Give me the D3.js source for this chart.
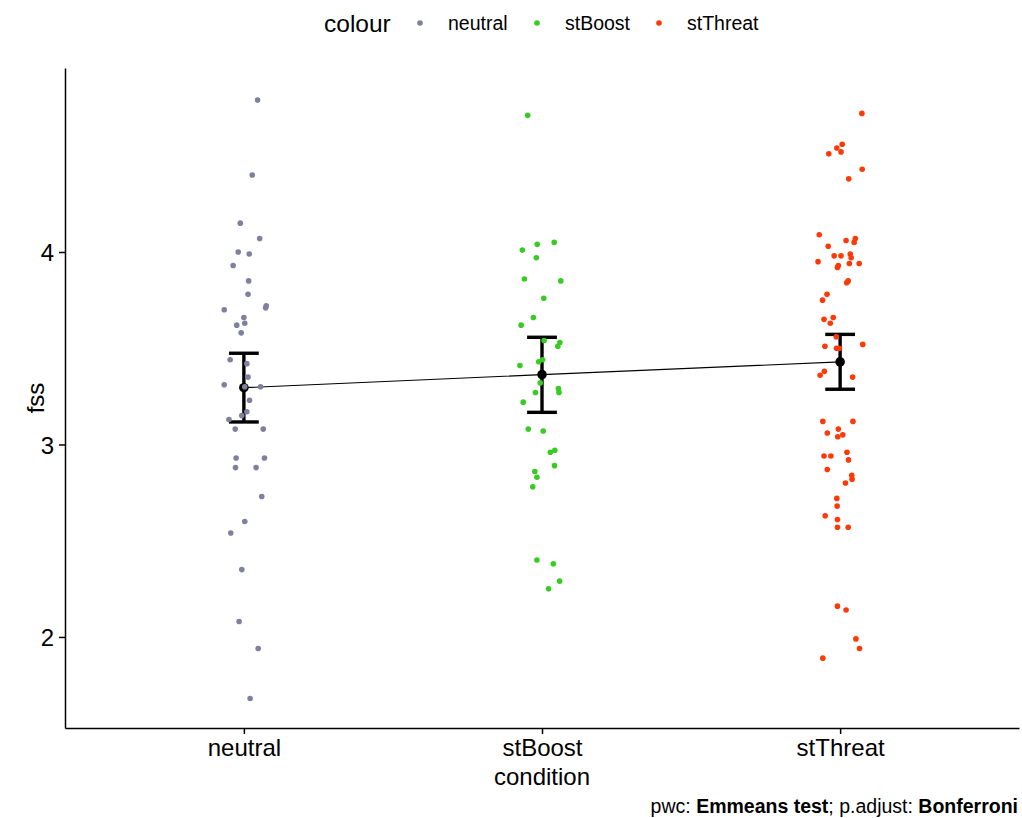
<!DOCTYPE html>
<html>
<head>
<meta charset="utf-8">
<script src="https://cdn.jsdelivr.net/npm/d3@7"></script>
<style>
  body { margin: 0; background: #fff; }
  text { font-family: 'Liberation Sans', Arial, sans-serif; }
</style>
</head>
<body>
<script>
// categories and colours
var conditions = ['neutral', 'stBoost', 'stThreat'];
var colours = ['#7f7f9f', '#37cc22', '#fc3a07'];

// fss scores, with the jitter offset (in category units)
var neutralFss = [4.79, 4.40, 4.15, 4.07, 4.00, 3.99, 3.93, 3.85, 3.78, 3.70, 3.72, 3.71, 3.66,
  3.63, 3.62, 3.58, 3.44, 3.42, 3.35, 3.31, 3.30, 3.30, 3.23, 3.17, 3.15, 3.13, 3.08, 3.08,
  2.93, 2.93, 2.88, 2.88, 2.73, 2.60, 2.54, 2.35, 2.08, 1.94, 1.68];
var neutralJitter = [0.046, 0.028, -0.012, 0.053, -0.019, 0.018, -0.036, 0.016, 0.014, -0.066, 0.075, 0.073, 0.000,
  0.003, -0.024, -0.009, -0.046, 0.010, 0.014, -0.066, 0.056, 0.003, 0.019, 0.010, -0.007, -0.050, -0.029, 0.065,
  -0.026, 0.069, -0.028, 0.041, 0.060, 0.003, -0.044, -0.007, -0.016, 0.048, 0.021];

var stBoostFss = [4.71, 4.01, 4.04, 4.05, 3.97, 3.86, 3.85, 3.76, 3.66, 3.62, 3.54, 3.53, 3.51,
  3.41, 3.43, 3.44, 3.32, 3.27, 3.29, 3.27, 3.22, 3.08, 3.07, 2.96, 2.97, 2.89, 2.86, 2.83,
  2.78, 2.40, 2.38, 2.29, 2.25];
var stBoostJitter = [-0.048, -0.066, -0.016, 0.041, -0.019, -0.059, 0.063, 0.006, -0.029, -0.070, 0.007, 0.060, 0.053,
  -0.074, -0.011, 0.002, -0.006, -0.022, 0.055, 0.057, -0.063, -0.046, 0.004, 0.028, 0.043, 0.042, -0.024, -0.017,
  -0.031, -0.017, 0.038, 0.059, 0.022];

var stThreatFss = [4.72, 4.56, 4.54, 4.52, 4.51, 4.43, 4.38, 4.09, 4.07, 4.05, 4.06, 4.03, 3.98,
  3.98, 3.99, 3.97, 3.95, 3.94, 3.94, 3.93, 3.92, 3.85, 3.84, 3.78, 3.75, 3.65, 3.66, 3.63,
  3.56, 3.51, 3.50, 3.50, 3.52, 3.38, 3.36, 3.35, 3.12, 3.12, 3.08, 3.06, 3.04, 3.05,
  2.94, 2.94, 2.96, 2.92, 2.87, 2.84, 2.82, 2.80, 2.72, 2.68, 2.63, 2.61, 2.57, 2.57,
  2.16, 2.14, 1.99, 1.94, 1.89];
var stThreatJitter = [0.073, 0.007, -0.011, 0.003, -0.038, 0.074, 0.029, -0.070, 0.051, 0.047, 0.020, -0.040, -0.020,
  0.003, 0.034, 0.037, -0.074, 0.031, 0.064, -0.006, -0.009, 0.027, 0.022, -0.044, -0.059, -0.054, -0.023, -0.033,
  -0.013, -0.051, -0.012, -0.003, 0.076, -0.053, -0.067, 0.042, -0.058, 0.043, -0.006, -0.043, -0.008, 0.009,
  -0.054, -0.031, 0.023, 0.028, -0.043, 0.039, 0.040, 0.018, -0.011, -0.010, -0.050, -0.009, -0.009, 0.027,
  -0.009, 0.020, 0.053, 0.065, -0.058];

// estimated marginal means and their intervals
var meanFss = [3.295, 3.363, 3.429];
var lowerFss = [3.117, 3.167, 3.287];
var upperFss = [3.474, 3.557, 3.572];

var yTicks = [2, 3, 4];

var svgWidth = 1022;
var svgHeight = 818;

var margin = {
  top: 68,
  bottom: 90,
  left: 65,
  right: 3
};

var chartHeight = svgHeight - margin.top - margin.bottom;
var chartWidth = svgWidth - margin.left - margin.right;

var svg = d3
  .select('body')
  .append('svg')
  .attr('width', svgWidth)
  .attr('height', svgHeight);

var chart = svg.append('g')
  .attr('transform', 'translate(' + margin.left + ',' + margin.top + ')');

// discrete x: categories at 1,2,3 with ggplot's 0.6 expansion
var xScale = d3.scaleLinear().domain([0.4, 3.6]).range([0, chartWidth]);
var yScale = d3.scaleLinear().domain([1.527, 4.956]).range([chartHeight, 0]);

var points = [];
[neutralFss, stBoostFss, stThreatFss].forEach(function(values, i) {
  var jitter = [neutralJitter, stBoostJitter, stThreatJitter][i];
  values.forEach(function(v, j) {
    points.push({ group: i, fss: v, jitter: jitter[j] });
  });
});

var summary = conditions.map(function(c, i) {
  return { group: i, mean: meanFss[i], lower: lowerFss[i], upper: upperFss[i] };
});

// line through the means
var meanLine = d3.line()
  .x(function(d) { return xScale(d.group + 1); })
  .y(function(d) { return yScale(d.mean); });

chart.append('path')
  .datum(summary)
  .attr('d', meanLine)
  .attr('fill', 'none')
  .attr('stroke', '#000')
  .attr('stroke-width', 1.2);

// error bars
var bars = chart.selectAll('.errbar')
  .data(summary)
  .enter()
  .append('g')
  .attr('class', 'errbar')
  .attr('stroke', '#000')
  .attr('stroke-width', 3.4);

bars.append('line')
  .attr('x1', function(d) { return xScale(d.group + 1); })
  .attr('x2', function(d) { return xScale(d.group + 1); })
  .attr('y1', function(d) { return yScale(d.lower); })
  .attr('y2', function(d) { return yScale(d.upper); });

bars.append('line')
  .attr('x1', function(d) { return xScale(d.group + 1 - 0.05); })
  .attr('x2', function(d) { return xScale(d.group + 1 + 0.05); })
  .attr('y1', function(d) { return yScale(d.upper); })
  .attr('y2', function(d) { return yScale(d.upper); });

bars.append('line')
  .attr('x1', function(d) { return xScale(d.group + 1 - 0.05); })
  .attr('x2', function(d) { return xScale(d.group + 1 + 0.05); })
  .attr('y1', function(d) { return yScale(d.lower); })
  .attr('y2', function(d) { return yScale(d.lower); });

chart.selectAll('.mean')
  .data(summary)
  .enter()
  .append('circle')
  .attr('class', 'mean')
  .attr('cx', function(d) { return xScale(d.group + 1); })
  .attr('cy', function(d) { return yScale(d.mean); })
  .attr('r', 4.8)
  .attr('fill', '#000');

// jittered raw points on top
chart.selectAll('.pt')
  .data(points)
  .enter()
  .append('circle')
  .attr('class', 'pt')
  .attr('cx', function(d) { return xScale(d.group + 1 + d.jitter); })
  .attr('cy', function(d) { return yScale(d.fss); })
  .attr('r', 2.8)
  .attr('fill', function(d) { return colours[d.group]; });

// axes
var bottomAxis = d3.axisBottom(xScale)
  .tickValues([1, 2, 3])
  .tickFormat(function(d) { return conditions[d - 1]; })
  .tickSizeOuter(0)
  .tickSizeInner(6)
  .tickPadding(3);

var leftAxis = d3.axisLeft(yScale)
  .tickValues(yTicks)
  .tickFormat(d3.format('d'))
  .tickSizeOuter(0)
  .tickSizeInner(6)
  .tickPadding(5);

var xAxisG = chart.append('g')
  .attr('transform', 'translate(0,' + chartHeight + ')')
  .call(bottomAxis);

var yAxisG = chart.append('g')
  .call(leftAxis);

[xAxisG, yAxisG].forEach(function(g) {
  g.select('.domain').attr('stroke', '#000').attr('stroke-width', 1.5);
  g.selectAll('.tick line').attr('stroke', '#000').attr('stroke-width', 1.5);
  g.selectAll('.tick text')
    .attr('fill', '#000')
    .style('font-size', '24px')
    .style('font-family', "'Liberation Sans', Arial, sans-serif");
});

xAxisG.selectAll('.tick text').attr('dy', '0.78em');
yAxisG.selectAll('.tick text').attr('dy', '0.36em');

// axis titles
chart.append('text')
  .attr('transform', 'rotate(-90)')
  .attr('x', -chartHeight / 2)
  .attr('y', -margin.left + 44)
  .attr('text-anchor', 'middle')
  .style('font-size', '24px')
  .text('fss');

chart.append('text')
  .attr('x', xScale(2))
  .attr('y', chartHeight + 57)
  .attr('text-anchor', 'middle')
  .style('font-size', '24px')
  .text('condition');

// caption
var caption = svg.append('text')
  .attr('x', 1018)
  .attr('y', 813)
  .attr('text-anchor', 'end')
  .style('font-size', '19.5px');
caption.append('tspan').text('pwc: ');
caption.append('tspan').style('font-weight', 'bold').text('Emmeans test');
caption.append('tspan').text('; p.adjust: ');
caption.append('tspan').style('font-weight', 'bold').text('Bonferroni');

// legend on top
var legend = svg.append('g');

legend.append('text')
  .attr('x', 324)
  .attr('y', 32)
  .style('font-size', '24.5px')
  .text('colour');

var legendX = [420, 537, 659];

var items = legend.selectAll('.item')
  .data(conditions)
  .enter()
  .append('g')
  .attr('class', 'item');

items.append('circle')
  .attr('cx', function(d, i) { return legendX[i]; })
  .attr('cy', 23)
  .attr('r', 2.8)
  .attr('fill', function(d, i) { return colours[i]; });

items.append('text')
  .attr('x', function(d, i) { return legendX[i] + 28; })
  .attr('y', 30)
  .style('font-size', '19.5px')
  .text(function(d) { return d; });
</script>
</body>
</html>
